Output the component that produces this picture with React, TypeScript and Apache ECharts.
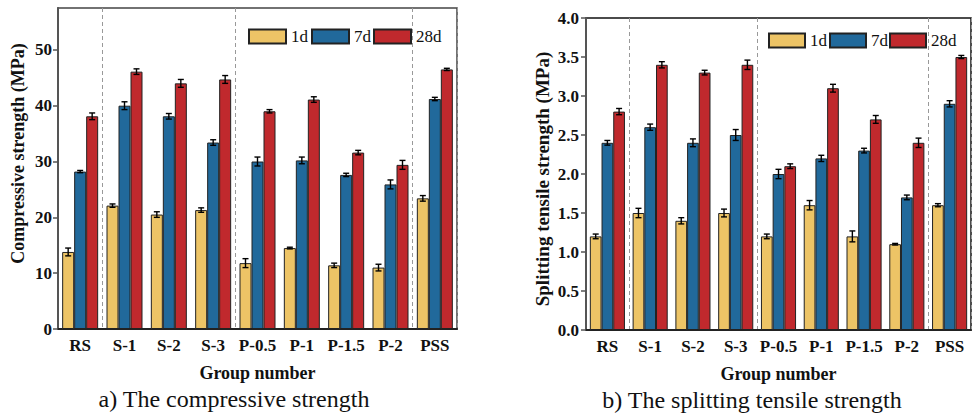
import React, { useEffect, useRef } from "react";
import * as echarts from "echarts";

const categories = ["RS", "S-1", "S-2", "S-3", "P-0.5", "P-1", "P-1.5", "P-2", "PSS"];
const days = ["1d", "7d", "28d"];
const colors = ["#EDC466", "#21699B", "#C0292D"];

// Compressive strength (MPa)
const comp1d = [13.8, 22.1, 20.5, 21.3, 11.8, 14.5, 11.4, 11.0, 23.4];
const comp7d = [28.2, 40.0, 38.1, 33.4, 30.0, 30.2, 27.6, 25.9, 41.2];
const comp28d = [38.1, 46.1, 44.0, 44.7, 39.0, 41.1, 31.6, 29.4, 46.5];
const compErr1d = [0.7, 0.3, 0.5, 0.4, 0.8, 0.15, 0.4, 0.6, 0.5];
const compErr7d = [0.2, 0.7, 0.5, 0.5, 0.8, 0.6, 0.3, 0.8, 0.3];
const compErr28d = [0.6, 0.5, 0.7, 0.7, 0.3, 0.5, 0.4, 0.8, 0.2];
const compTicks = [0, 10, 20, 30, 40, 50];

// Splitting tensile strength (MPa)
const split1d = [1.2, 1.5, 1.4, 1.5, 1.2, 1.6, 1.2, 1.1, 1.6];
const split7d = [2.4, 2.6, 2.4, 2.5, 2.0, 2.2, 2.3, 1.7, 2.9];
const split28d = [2.8, 3.4, 3.3, 3.4, 2.1, 3.1, 2.7, 2.4, 3.5];
const splitErr1d = [0.03, 0.06, 0.04, 0.05, 0.03, 0.06, 0.07, 0.01, 0.02];
const splitErr7d = [0.03, 0.04, 0.05, 0.07, 0.06, 0.04, 0.03, 0.03, 0.04];
const splitErr28d = [0.04, 0.04, 0.03, 0.06, 0.03, 0.05, 0.05, 0.06, 0.02];

const separators = [1, 4, 8];

const FONT = "'Liberation Serif', 'Times New Roman', serif";

function errRenderer(offset: number) {
  return (params: any, api: any) => {
    const x = api.value(0);
    const v = api.value(1);
    const e = api.value(2);
    const hi = api.coord([x, v + e]);
    const lo = api.coord([x, v - e]);
    const cx = hi[0] + offset;
    const cap = 3;
    const st = { stroke: "#000", lineWidth: 1.4 };
    return {
      type: "group",
      children: [
        { type: "line", shape: { x1: cx, y1: hi[1], x2: cx, y2: lo[1] }, style: st },
        { type: "line", shape: { x1: cx - cap, y1: hi[1], x2: cx + cap, y2: hi[1] }, style: st },
        { type: "line", shape: { x1: cx - cap, y1: lo[1], x2: cx + cap, y2: lo[1] }, style: st },
      ],
    };
  };
}

function legendItem(day: string, left: number, top: number, w: number) {
  return {
    data: [day],
    left,
    top,
    padding: 0,
    itemWidth: w,
    itemHeight: 14,
    itemGap: 0,
    icon: "rect",
    textStyle: { fontFamily: FONT, fontSize: 17, color: "#111" },
  };
}

export default function App() {
  const ref = useRef<HTMLDivElement>(null);
  useEffect(() => {
    if (!ref.current) return;
    const chart = echarts.init(ref.current, null, { renderer: "svg" });

    const groups = [
      { vals: [comp1d, comp7d, comp28d], errs: [compErr1d, compErr7d, compErr28d], bw: 12 },
      { vals: [split1d, split7d, split28d], errs: [splitErr1d, splitErr7d, splitErr28d], bw: 11.7 },
    ];

    const series: any[] = [];
    groups.forEach((g, gi) => {
      g.vals.forEach((vals, di) => {
        series.push({
          type: "bar",
          name: days[di],
          xAxisIndex: gi,
          yAxisIndex: gi,
          data: vals,
          barWidth: g.bw,
          barGap: "0%",
          itemStyle: { color: colors[di], borderColor: "#222", borderWidth: 1 },
          z: 2,
        });
      });
      g.vals.forEach((vals, di) => {
        series.push({
          type: "custom",
          name: "err" + gi + days[di],
          xAxisIndex: gi,
          yAxisIndex: gi,
          data: vals.map((v, i) => [i, v, g.errs[di][i]]),
          encode: { x: 0, y: 1 },
          renderItem: errRenderer((di - 1) * g.bw),
          z: 5,
          silent: true,
        });
      });
    });

    const xAxisBase = (gi: number) => ({
      type: "category",
      gridIndex: gi,
      data: categories,
      name: "Group number",
      nameLocation: "middle",
      nameGap: 35,
      nameTextStyle: { fontFamily: FONT, fontWeight: "bold", fontSize: 18, color: "#111" },
      axisLine: { lineStyle: { color: "#222", width: 2 } },
      axisTick: { inside: true, alignWithLabel: true, length: 5, lineStyle: { color: "#222", width: 1.5 } },
      axisLabel: {
        fontFamily: FONT,
        fontWeight: "bold",
        fontSize: 17,
        color: "#111",
        margin: 8,
        interval: 0,
      },
      splitLine: {
        show: true,
        interval: (i: number) => separators.indexOf(i) >= 0,
        lineStyle: { color: "#999", type: [4, 3], width: 1 },
      },
    });

    const option: any = {
      animation: false,
      backgroundColor: "#fff",
      grid: [
        { left: 58, top: 8, right: 515, bottom: 86, show: true, borderColor: "#444", borderWidth: 1.5 },
        { left: 586, top: 18, right: 1, bottom: 85, show: true, borderColor: "#111", borderWidth: 1.5 },
      ],
      legend: [
        legendItem("1d", 248, 28, 37),
        legendItem("7d", 311, 28, 37),
        legendItem("28d", 373, 28, 37),
        legendItem("1d", 768, 32, 36),
        legendItem("7d", 829, 32, 36),
        legendItem("28d", 889, 32, 36),
      ],
      xAxis: [xAxisBase(0), xAxisBase(1)],
      yAxis: [
        {
          type: "value",
          gridIndex: 0,
          min: 0,
          max: 57.5,
          name: "Compressive strength (MPa)",
          nameLocation: "middle",
          nameGap: 31,
          nameTextStyle: {
            fontFamily: FONT,
            fontWeight: "bold",
            fontSize: 18,
            color: "#111",
            padding: [0, 0, 0, 30],
          },
          axisLine: { show: true, lineStyle: { color: "#555", width: 2 } },
          axisTick: { show: true, length: 5, customValues: compTicks, lineStyle: { color: "#555", width: 1.5 } },
          axisLabel: {
            customValues: compTicks,
            fontFamily: FONT,
            fontWeight: "bold",
            fontSize: 17,
            color: "#111",
            margin: 6,
          },
          splitLine: { show: false },
        },
        {
          type: "value",
          gridIndex: 1,
          min: 0,
          max: 4,
          interval: 0.5,
          name: "Splitting tensile strength (MPa)",
          nameLocation: "middle",
          nameGap: 34,
          nameTextStyle: {
            fontFamily: FONT,
            fontWeight: "bold",
            fontSize: 19,
            color: "#111",
            padding: [0, 10, 0, 0],
          },
          axisLine: { show: true, lineStyle: { color: "#555", width: 2 } },
          axisTick: { show: true, length: 5, lineStyle: { color: "#555", width: 1.5 } },
          axisLabel: {
            formatter: (v: number) => v.toFixed(1),
            fontFamily: FONT,
            fontWeight: "bold",
            fontSize: 17,
            color: "#111",
            margin: 7,
          },
          splitLine: { show: false },
        },
      ],
      graphic: [
        {
          type: "text",
          x: 234,
          y: 399,
          style: {
            text: "a) The compressive strength",
            font: `24px ${FONT}`,
            fill: "#111",
            align: "center",
            verticalAlign: "middle",
          },
        },
        {
          type: "text",
          x: 752,
          y: 400,
          style: {
            text: "b) The splitting tensile strength",
            font: `24px ${FONT}`,
            fill: "#111",
            align: "center",
            verticalAlign: "middle",
          },
        },
      ],
      series,
    };
    chart.setOption(option);
    return () => chart.dispose();
  }, []);

  return (
    <div
      ref={ref}
      style={{ position: "fixed", left: 0, top: 0, width: 972, height: 415, background: "#fff" }}
    />
  );
}
